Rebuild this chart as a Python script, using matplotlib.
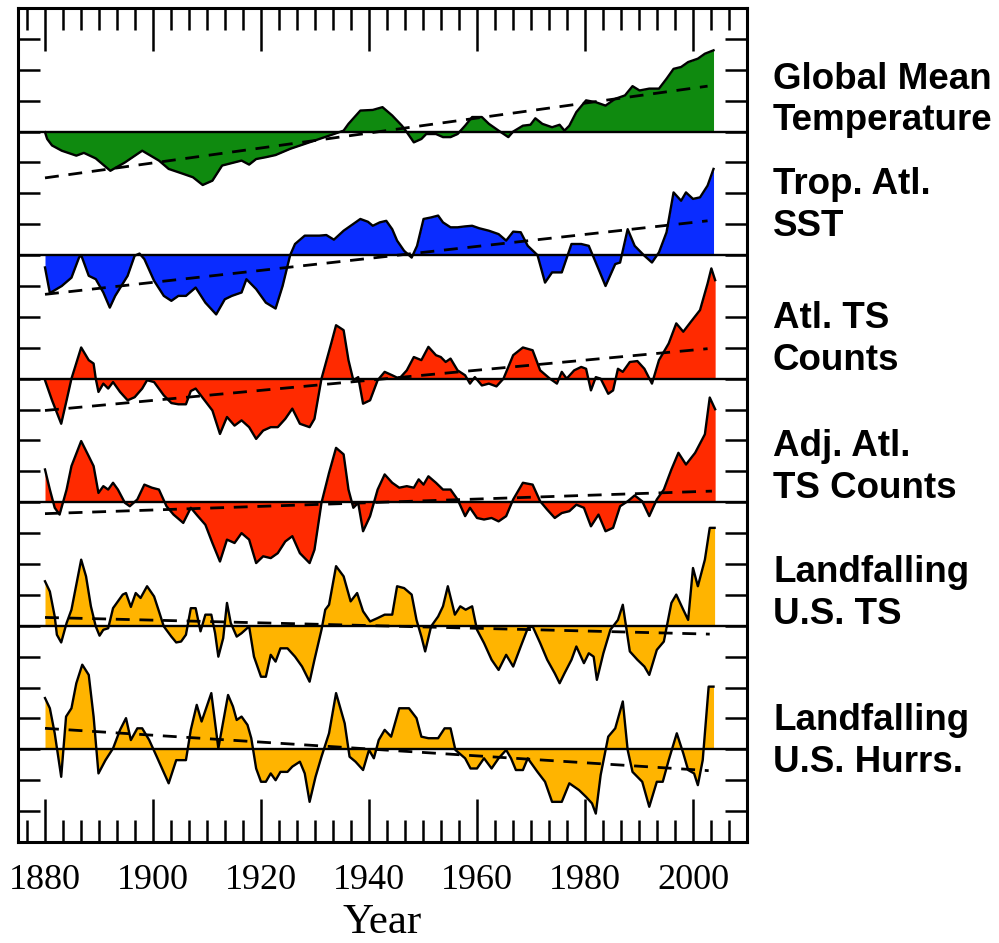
import matplotlib
matplotlib.use('Agg')
import matplotlib.pyplot as plt
import numpy as np

# anomalies, in y-tick units, one list per panel

gmt_years = [1880.0, 1880.4, 1881.3, 1883.1, 1885.8, 1887.2, 1889.4, 1892.1, 1894.8, 1898.0,
             1901.1, 1902.9, 1905.6, 1907.4, 1909.2, 1911.0, 1912.8, 1914.6, 1916.4, 1917.8,
             1919.1, 1920.9, 1922.7, 1925.4, 1928.1, 1930.8, 1933.5, 1935.3, 1936.2, 1938.4,
             1940.7, 1942.5, 1944.3, 1946.1, 1947.0, 1948.3, 1949.7, 1950.6, 1952.4, 1953.7,
             1955.1, 1956.4, 1957.8, 1959.1, 1960.9, 1962.2, 1964.0, 1965.8, 1966.7, 1968.5,
             1969.9, 1970.8, 1972.1, 1973.9, 1975.3, 1976.2, 1977.1, 1978.4, 1980.2, 1982.0,
             1983.8, 1985.6, 1987.4, 1988.8, 1990.1, 1991.9, 1993.7, 1995.1, 1996.4, 1997.8,
             1999.1, 2000.9, 2002.2, 2003.8]
gmt_vals = [-0.02, -0.24, -0.45, -0.62, -0.78, -0.69, -0.87, -1.27, -1.00, -0.62,
            -0.94, -1.21, -1.37, -1.48, -1.73, -1.59, -1.10, -1.02, -0.94, -1.07,
            -0.89, -0.83, -0.76, -0.56, -0.40, -0.24, -0.08, 0.03, 0.25, 0.68,
            0.70, 0.79, 0.52, 0.19, -0.02, -0.35, -0.24, -0.08, -0.08, -0.18,
            -0.18, -0.08, 0.19, 0.47, 0.47, 0.25, 0.03, -0.18, 0.0, 0.19,
            0.22, 0.43, 0.25, 0.14, 0.22, 0.03, 0.19, 0.63, 1.01, 0.95,
            0.84, 1.06, 1.17, 1.47, 1.33, 1.39, 1.39, 1.71, 2.03, 2.09,
            2.25, 2.36, 2.52, 2.63]

sst_years = [1880.0, 1880.9, 1883.1, 1884.9, 1886.3, 1886.7, 1888.1, 1889.4, 1890.8, 1892.0,
             1893.0, 1895.3, 1896.6, 1897.5, 1898.4, 1900.2, 1902.0, 1903.4, 1904.7, 1906.1,
             1907.9, 1909.7, 1911.7, 1913.3, 1914.6, 1916.4, 1917.3, 1919.1, 1920.9, 1922.7,
             1924.0, 1925.4, 1926.3, 1928.1, 1930.8, 1932.1, 1933.5, 1935.3, 1937.1, 1938.4,
             1939.8, 1940.7, 1942.0, 1943.2, 1944.3, 1945.2, 1946.5, 1947.9, 1948.9, 1950.1,
             1951.5, 1952.8, 1953.7, 1955.1, 1956.4, 1957.8, 1959.1, 1960.4, 1962.2, 1964.0,
             1965.4, 1966.7, 1968.1, 1969.4, 1971.2, 1972.6, 1973.9, 1975.7, 1977.5, 1979.3,
             1980.7, 1982.5, 1983.8, 1985.6, 1986.5, 1987.9, 1989.2, 1991.0, 1992.4, 1993.7,
             1995.1, 1996.4, 1997.8, 1998.7, 2000.0, 2001.3, 2002.7, 2003.8]
sst_vals = [-0.40, -1.23, -1.00, -0.73, -0.08, 0.0, -0.67, -0.78, -1.21, -1.70,
            -1.32, -0.67, -0.02, 0.05, -0.13, -0.83, -1.32, -1.48, -1.32, -1.32,
            -1.05, -1.54, -1.92, -1.43, -1.32, -1.21, -0.78, -1.10, -1.54, -1.73,
            -1.00, 0.0, 0.36, 0.63, 0.63, 0.65, 0.50, 0.79, 1.01, 1.17,
            1.08, 0.95, 1.06, 1.11, 0.84, 0.47, 0.14, -0.08, 0.30, 1.17,
            1.22, 1.28, 1.06, 0.90, 0.90, 0.93, 0.95, 0.87, 0.79, 0.68,
            0.47, 0.76, 0.74, 0.30, 0.0, -0.89, -0.56, -0.56, 0.36, 0.36,
            0.30, -0.45, -1.00, -0.29, -0.24, 0.84, 0.30, -0.02, -0.24, 0.09,
            0.74, 2.03, 1.76, 2.03, 1.82, 1.87, 2.25, 2.79]

ts_years = [1880.0, 1881.3, 1883.0, 1884.0, 1884.9, 1886.7, 1888.1, 1889.0, 1889.4, 1889.9,
            1890.8, 1891.7, 1892.6, 1893.9, 1895.3, 1896.6, 1898.0, 1898.9, 1900.2, 1902.0,
            1903.4, 1904.7, 1906.1, 1907.0, 1907.9, 1909.2, 1911.0, 1912.4, 1913.7, 1915.1,
            1916.4, 1917.8, 1919.1, 1920.4, 1921.8, 1923.1, 1924.5, 1925.8, 1927.2, 1929.0,
            1929.9, 1931.2, 1933.0, 1933.9, 1935.3, 1936.2, 1937.1, 1938.0, 1938.9, 1940.2,
            1941.6, 1942.9, 1944.3, 1945.6, 1947.0, 1948.3, 1949.7, 1951.0, 1952.4, 1953.3,
            1954.2, 1955.1, 1956.4, 1957.8, 1958.7, 1959.6, 1960.9, 1962.2, 1963.6, 1964.9,
            1966.7, 1968.5, 1970.3, 1971.7, 1973.5, 1974.8, 1975.7, 1976.6, 1978.0, 1979.3,
            1980.2, 1981.1, 1982.0, 1982.9, 1984.3, 1985.2, 1986.1, 1987.0, 1988.3, 1989.7,
            1991.0, 1992.4, 1993.7, 1995.5, 1996.9, 1998.2, 1999.6, 2001.3, 2002.7, 2003.4,
            2004.1]
ts_vals = [-0.05, -0.70, -1.46, -0.70, 0.0, 1.01, 0.60, 0.49, 0.0, -0.43,
           -0.16, -0.32, -0.11, -0.43, -0.70, -0.60, -0.32, -0.05, -0.11, -0.54,
           -0.79, -0.83, -0.83, -0.40, -0.32, -0.62, -1.03, -1.79, -1.24, -1.52,
           -1.35, -1.57, -1.95, -1.68, -1.57, -1.57, -1.30, -0.97, -1.46, -1.57,
           -1.30, 0.0, 1.14, 1.73, 1.57, 0.60, -0.05, 0.05, -0.81, -0.70,
           -0.05, 0.22, 0.11, 0.0, 0.27, 0.70, 0.60, 1.03, 0.76, 0.70,
           0.54, 0.65, 0.27, 0.11, -0.16, 0.05, -0.22, -0.16, -0.25, 0.0,
           0.76, 1.01, 0.92, 0.27, 0.0, -0.16, 0.22, 0.0, 0.27, 0.38,
           0.32, -0.38, 0.05, 0.0, -0.49, -0.38, 0.32, 0.22, 0.54, 0.57,
           0.32, -0.16, 0.60, 1.14, 1.79, 1.52, 1.84, 2.22, 3.08, 3.57,
           3.19]

adj_years = [1880.0, 1880.9, 1881.8, 1882.7, 1884.0, 1884.9, 1886.7, 1888.1, 1889.0, 1889.9,
             1890.8, 1891.7, 1892.6, 1893.5, 1894.8, 1895.7, 1897.1, 1898.4, 1899.8, 1901.1,
             1902.5, 1903.8, 1905.6, 1907.0, 1908.3, 1909.7, 1911.0, 1912.4, 1913.7, 1915.1,
             1916.4, 1917.8, 1919.1, 1920.4, 1921.8, 1923.1, 1924.5, 1925.8, 1927.2, 1929.0,
             1929.9, 1931.2, 1932.6, 1933.9, 1935.3, 1936.2, 1937.1, 1938.0, 1938.9, 1940.2,
             1941.6, 1942.9, 1944.3, 1945.6, 1947.0, 1948.3, 1949.2, 1950.1, 1951.0, 1952.4,
             1953.7, 1955.1, 1956.4, 1957.8, 1958.7, 1960.0, 1961.3, 1962.7, 1964.0, 1965.4,
             1966.7, 1968.5, 1970.3, 1971.7, 1973.0, 1974.4, 1975.7, 1977.1, 1978.4, 1979.8,
             1981.1, 1982.5, 1983.8, 1985.2, 1986.5, 1987.9, 1989.2, 1990.6, 1991.9, 1993.3,
             1994.6, 1996.0, 1997.3, 1998.7, 2000.4, 2002.2, 2003.1, 2004.1]
adj_vals = [1.06, 0.41, -0.18, -0.40, 0.41, 1.17, 1.98, 1.49, 1.17, 0.30,
            0.52, 0.41, 0.63, 0.41, -0.02, -0.13, 0.09, 0.57, 0.47, 0.41,
            -0.13, -0.40, -0.67, -0.18, -0.45, -0.73, -1.32, -1.92, -1.21, -1.32,
            -1.00, -1.21, -1.97, -1.75, -1.81, -1.65, -1.27, -1.10, -1.65, -1.97,
            -1.54, -0.02, 0.95, 1.76, 1.55, 0.41, -0.18, -0.02, -0.94, -0.45,
            0.41, 0.90, 0.63, 0.47, 0.52, 0.47, 0.74, 0.57, 0.84, 0.63,
            0.41, 0.41, 0.09, -0.45, -0.18, -0.51, -0.56, -0.51, -0.62, -0.45,
            0.09, 0.63, 0.57, 0.03, -0.24, -0.51, -0.35, -0.29, -0.08, -0.18,
            -0.78, -0.40, -0.94, -0.83, -0.13, 0.03, 0.22, 0.03, -0.45, 0.09,
            0.41, 1.06, 1.60, 1.22, 1.60, 2.20, 3.39, 3.01]

lts_years = [1880.0, 1880.9, 1881.8, 1882.2, 1883.0, 1884.0, 1884.9, 1885.8, 1886.7, 1887.6,
             1888.5, 1889.4, 1890.1, 1890.8, 1891.7, 1892.6, 1893.5, 1894.4, 1895.0, 1895.9,
             1896.8, 1897.7, 1898.9, 1900.2, 1901.1, 1902.0, 1903.4, 1904.3, 1905.2, 1906.1,
             1907.0, 1907.9, 1908.8, 1909.7, 1910.8, 1911.5, 1912.1, 1913.0, 1913.7, 1914.4,
             1915.5, 1916.4, 1917.8, 1918.7, 1920.0, 1920.9, 1921.8, 1922.7, 1923.6, 1924.9,
             1926.3, 1927.6, 1929.0, 1929.9, 1931.2, 1931.9, 1932.6, 1933.9, 1935.3, 1936.6,
             1937.8, 1938.9, 1940.2, 1941.6, 1942.9, 1944.3, 1945.2, 1946.5, 1947.9, 1948.8,
             1949.7, 1950.4, 1951.5, 1952.8, 1953.7, 1954.6, 1955.9, 1956.9, 1957.9, 1959.1,
             1960.0, 1961.3, 1962.7, 1964.0, 1965.4, 1966.7, 1968.1, 1969.4, 1970.3, 1971.7,
             1973.0, 1974.4, 1975.3, 1976.2, 1977.5, 1978.4, 1979.8, 1980.7, 1981.6, 1982.2,
             1983.4, 1984.7, 1986.1, 1987.0, 1988.3, 1989.7, 1991.0, 1991.9, 1993.3, 1994.6,
             1996.0, 1996.9, 1998.2, 1999.1, 2000.0, 2000.9, 2002.2, 2003.1, 2004.0]
lts_vals = [1.44, 1.11, 0.30, -0.29, -0.54, 0.09, 0.52, 1.33, 2.14, 1.60,
            0.63, -0.02, -0.32, -0.13, -0.08, 0.57, 0.79, 1.01, 1.06, 0.61,
            1.06, 0.90, 1.28, 0.95, 0.47, -0.02, -0.35, -0.54, -0.51, -0.29,
            0.57, 0.57, -0.18, 0.36, 0.36, -0.24, -1.00, -0.40, 0.74, 0.09,
            -0.35, -0.24, -0.02, -1.00, -1.65, -1.65, -0.94, -1.16, -0.73, -0.73,
            -1.00, -1.32, -1.81, -1.10, -0.13, 0.52, 0.68, 1.93, 1.60, 0.79,
            1.06, 0.47, 0.14, 0.25, 0.36, 0.36, 1.28, 1.22, 1.01, 0.19,
            -0.35, -0.83, -0.02, 0.30, 0.63, 1.28, 0.36, 0.63, 0.52, 0.63,
            -0.13, -0.56, -1.10, -1.43, -0.94, -1.32, -0.67, -0.08, -0.02, -0.56,
            -1.10, -1.54, -1.86, -1.54, -1.10, -0.67, -1.21, -0.89, -1.00, -1.75,
            -0.89, -0.13, 0.19, 0.68, -0.83, -1.10, -1.32, -1.59, -0.78, -0.51,
            0.74, 1.01, 0.52, 0.19, 1.87, 1.28, 2.14, 3.17, 3.17]

lhu_years = [1880.0, 1880.9, 1881.8, 1883.0, 1883.9, 1884.9, 1885.8, 1886.9, 1888.1, 1889.0,
             1889.9, 1891.2, 1892.6, 1893.9, 1895.0, 1895.9, 1897.1, 1898.0, 1899.3, 1900.7,
             1902.9, 1904.3, 1906.1, 1907.0, 1908.1, 1909.0, 1910.8, 1912.1, 1913.9, 1914.8,
             1915.5, 1916.4, 1917.5, 1918.2, 1919.1, 1920.0, 1920.9, 1921.8, 1922.7, 1923.6,
             1924.9, 1925.8, 1927.2, 1928.1, 1929.0, 1930.1, 1931.2, 1932.6, 1933.9, 1935.5,
             1936.4, 1937.5, 1938.9, 1940.0, 1940.9, 1941.8, 1942.9, 1944.1, 1945.6, 1947.4,
             1948.8, 1949.7, 1951.0, 1952.8, 1954.0, 1955.1, 1956.0, 1957.8, 1958.8, 1960.0,
             1961.3, 1962.7, 1964.0, 1965.4, 1966.3, 1967.2, 1968.5, 1969.4, 1971.2, 1972.6,
             1973.9, 1975.7, 1977.1, 1978.9, 1980.2, 1981.3, 1982.0, 1982.9, 1984.3, 1985.6,
             1987.0, 1987.9, 1988.8, 1990.6, 1991.9, 1993.3, 1994.4, 1995.5, 1997.0, 1998.2,
             1999.1, 2000.2, 2000.9, 2001.8, 2002.9, 2003.8]
lhu_vals = [1.66, 1.33, 0.52, -0.89, 1.06, 1.33, 2.14, 2.74, 2.41, 1.06,
            -0.78, -0.35, 0.03, 0.63, 1.01, 0.30, 0.68, 0.68, 0.30, -0.24,
            -1.10, -0.35, -0.35, 0.63, 1.44, 0.90, 1.82, 0.03, 1.76, 1.39,
            0.95, 1.06, 0.79, 0.36, -0.62, -1.05, -1.05, -0.78, -1.00, -0.73,
            -0.73, -0.56, -0.40, -0.78, -1.70, -0.89, -0.24, 0.52, 1.82, 0.84,
            -0.24, -0.40, -0.67, -0.02, -0.29, 0.30, 0.63, 0.41, 1.33, 1.33,
            1.01, 0.41, 0.36, 0.36, 0.68, 0.68, -0.02, -0.29, -0.62, -0.62,
            -0.29, -0.62, -0.29, -0.02, -0.29, -0.67, -0.67, -0.29, -0.73, -1.05,
            -1.70, -1.70, -1.10, -1.32, -1.54, -1.75, -2.08, -0.83, 0.41, 0.68,
            1.55, -0.02, -0.73, -1.05, -1.86, -1.05, -1.05, -0.35, 0.52, -0.13,
            -0.67, -0.78, -1.16, -0.35, 2.03, 2.03]

# dashed linear trends: value at 1880 and at the last year
trend_start = [-1.50, -1.27, -1.03, -0.37, 0.27, 0.68]
trend_end = [1.47, 1.11, 0.97, 0.36, -0.27, -0.69]
trend_end_year = [2002.7, 2002.7, 2002.7, 2003.5, 2003.1, 2002.9]

labels = [['Global Mean', 'Temperature'],
          ['Trop. Atl.', 'SST'],
          ['Atl. TS', 'Counts'],
          ['Adj. Atl.', 'TS Counts'],
          ['Landfalling', 'U.S. TS'],
          ['Landfalling', 'U.S. Hurrs.']]

series_years = [gmt_years, sst_years, ts_years, adj_years, lts_years, lhu_years]
series_vals = [gmt_vals, sst_vals, ts_vals, adj_vals, lts_vals, lhu_vals]
colors = ['#0f8a0f', '#0a2cff', '#ff2a00', '#ff2a00', '#ffb400', '#ffb400']

W, H = 999, 943
fig = plt.figure(figsize=(W / 100, H / 100), dpi=100)
ax = fig.add_axes([18 / W, 1 - 842 / H, 729 / W, 834 / H])

for i in range(6):
    base = -4 * i
    x = np.array(series_years[i])
    y = base + np.array(series_vals[i])
    ax.fill_between(x, base, y, color=colors[i], linewidth=0, zorder=2)
    ax.plot(x, y, color='black', linewidth=1.7, zorder=3)
    ax.axhline(base, color='black', linewidth=1.7, zorder=4)
    ax.plot([1880, trend_end_year[i]], [base + trend_start[i], base + trend_end[i]],
            color='black', linewidth=2.0, linestyle=(0, (5, 3.5)), zorder=5)

ax.set_xlim(1875, 2010)
ax.set_ylim(-23, 4)

ax.set_xticks(range(1880, 2001, 20))
ax.set_xticks(np.arange(1880 - 20 / 6, 2009, 20 / 6), minor=True)
ax.set_yticks(range(-22, 4))
ax.tick_params(axis='x', which='major', direction='in', top=True, bottom=True,
               length=31, width=1.8, labelsize=26, pad=16)
ax.tick_params(axis='x', which='minor', direction='in', top=True, bottom=True,
               length=16, width=1.8)
ax.tick_params(axis='y', which='major', direction='in', left=True, right=True,
               length=16, width=1.8, labelleft=False)
for lab in ax.get_xticklabels():
    lab.set_family('Liberation Serif')
for s in ax.spines.values():
    s.set_linewidth(2.2)

ax.set_xlabel('Year', fontsize=31, family='Liberation Serif')
ax.xaxis.set_label_coords(0.5, -0.074)

# label blocks to the right of the panels (caps centre, px from top)
block_centres = [97, 202, 336, 464, 590, 738]
for i in range(6):
    for j, line in enumerate(labels[i]):
        ypx = block_centres[i] + (j - 0.5) * 41 + 13
        fig.text(773 / W, 1 - ypx / H, line, fontsize=26.5, fontweight='bold',
                 family='Liberation Sans', va='baseline', ha='left')

fig.savefig('out.png', dpi=100)
